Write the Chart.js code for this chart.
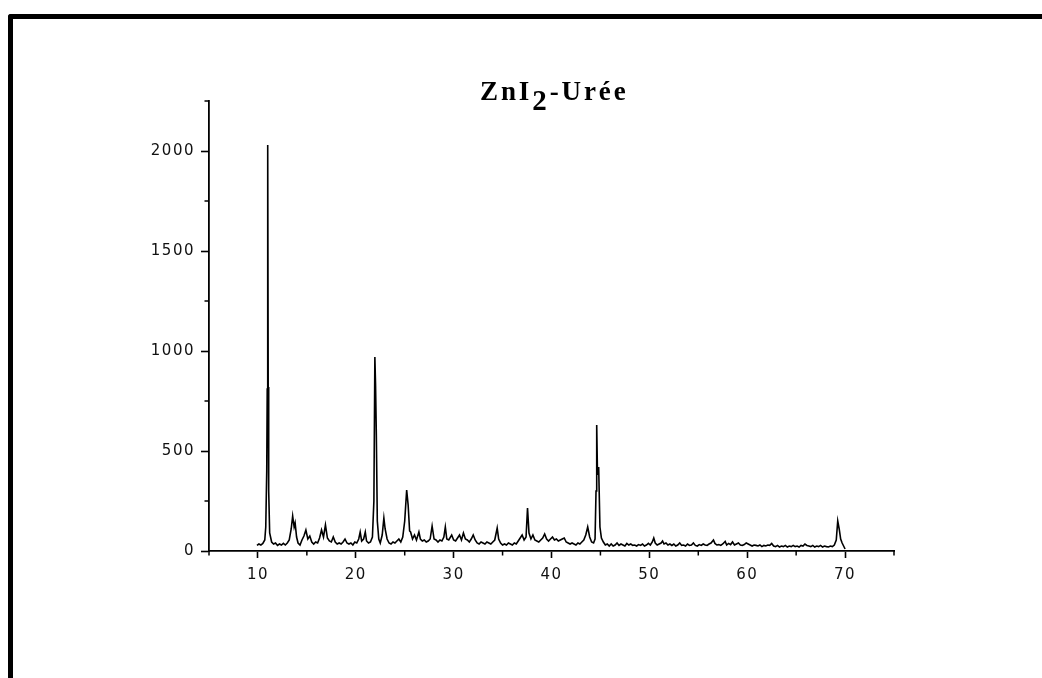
<!DOCTYPE html>
<html>
<head>
<meta charset="utf-8">
<script src="https://cdn.jsdelivr.net/npm/chart.js@4/dist/chart.umd.min.js"></script>
<style>
  html, body { margin: 0; padding: 0; background: #fff; }
  #wrap { position: relative; width: 1042px; height: 678px; overflow: hidden; background: #fff; }
  #frame { position: absolute; left: 8px; top: 14px; width: 1200px; height: 800px;
           border-left: 5px solid #000; border-top: 5px solid #000; border-top-left-radius: 3px; }
  #title { position: absolute; left: 480px; top: 77px; line-height: 27px; white-space: nowrap;
           font-family: "Liberation Serif", "Times New Roman", serif; font-weight: bold; font-size: 27px;
           letter-spacing: 2.9px; color: #000; }
  #title .sub { position: relative; top: 10px; font-size: 29px; }
  canvas { position: absolute; left: 0; top: 0; }
</style>
</head>
<body>
<div id="wrap">
  <canvas id="c" width="1042" height="678"></canvas>
  <div id="frame"></div>
  <div id="title">ZnI<span class="sub">2</span>-Urée</div>
</div>
<script>
// 2-theta (degrees)
const twoTheta = [
  9.9,10.1,10.3,10.5,10.7,10.8,10.9,10.95,11.0,11.05,11.1,11.2,11.4,11.6,11.8,12.0,12.2,12.4,12.6,12.8,
  13.0,13.2,13.4,13.55,13.7,13.8,13.95,14.1,14.3,14.5,14.7,14.9,15.1,15.3,15.5,15.7,15.9,16.1,16.3,16.5,
  16.7,16.9,17.1,17.3,17.5,17.7,17.9,18.1,18.3,18.5,18.7,18.9,19.1,19.3,19.5,19.7,19.9,20.1,20.3,20.45,
  20.6,20.8,20.97,21.1,21.3,21.5,21.7,21.85,21.95,22.02,22.1,22.2,22.35,22.5,22.7,22.87,23.0,23.2,23.4,23.6,
  23.8,24.0,24.2,24.4,24.6,24.8,25.0,25.2,25.35,25.5,25.6,25.8,26.0,26.2,26.45,26.6,26.8,27.0,27.2,27.4,
  27.6,27.8,28.0,28.2,28.4,28.6,28.8,29.0,29.15,29.3,29.5,29.8,30.0,30.2,30.4,30.6,30.8,31.0,31.2,31.4,
  31.6,31.8,32.0,32.2,32.4,32.6,32.8,33.0,33.2,33.4,33.6,33.8,34.0,34.2,34.45,34.6,34.8,35.0,35.2,35.4,
  35.6,35.8,36.0,36.2,36.4,36.6,36.8,37.0,37.2,37.4,37.55,37.7,37.9,38.1,38.3,38.5,38.7,38.9,39.1,39.3,
  39.5,39.7,39.9,40.1,40.3,40.5,40.7,40.9,41.1,41.3,41.5,41.7,41.9,42.1,42.3,42.5,42.7,42.9,43.1,43.3,
  43.5,43.7,43.9,44.1,44.3,44.45,44.55,44.62,44.7,44.82,44.95,45.1,45.3,45.5,45.7,45.9,46.1,46.3,46.5,46.7,
  46.9,47.1,47.3,47.5,47.7,47.9,48.1,48.3,48.5,48.7,48.9,49.1,49.3,49.5,49.7,49.9,50.1,50.3,50.45,50.6,
  50.8,51.0,51.2,51.35,51.5,51.7,51.9,52.1,52.3,52.5,52.7,52.9,53.1,53.3,53.5,53.7,53.9,54.1,54.3,54.5,
  54.7,54.9,55.1,55.3,55.5,55.7,55.9,56.1,56.3,56.55,56.7,56.9,57.1,57.3,57.5,57.75,57.9,58.1,58.3,58.5,
  58.7,58.9,59.1,59.3,59.5,59.7,59.9,60.1,60.3,60.5,60.7,60.9,61.1,61.3,61.5,61.7,61.9,62.1,62.3,62.5,
  62.7,62.9,63.1,63.3,63.5,63.7,63.9,64.1,64.3,64.5,64.7,64.9,65.1,65.3,65.5,65.7,65.9,66.1,66.3,66.5,
  66.7,66.9,67.1,67.3,67.5,67.7,67.9,68.1,68.3,68.5,68.7,68.9,69.1,69.25,69.4,69.55,69.7,69.85,70.0
];
// intensity (counts)
const intensity = [
  28,35,30,38,55,120,400,810,2030,820,300,90,45,35,40,28,35,30,38,30,
  40,55,110,175,120,140,70,40,30,55,75,105,60,75,45,35,45,40,65,105,
  70,130,65,50,45,70,45,35,40,35,45,60,40,35,40,30,45,40,60,95,
  50,60,95,50,40,45,70,250,970,830,580,150,60,40,80,165,110,60,40,35,
  45,40,50,60,45,70,150,305,230,100,95,60,80,55,95,60,50,55,45,50,
  60,125,60,55,45,55,50,70,120,60,55,80,55,50,65,80,55,90,60,55,
  45,60,80,55,40,35,45,40,35,45,40,35,45,55,115,60,40,30,35,30,
  40,35,30,40,35,50,65,80,55,70,215,90,60,80,55,50,45,55,65,85,
  60,50,60,70,55,60,50,55,60,65,45,40,35,40,35,30,40,35,45,55,
  80,120,70,45,40,60,300,630,380,420,120,65,45,30,35,25,35,25,30,40,
  28,35,30,25,38,30,35,28,30,25,32,28,35,25,30,38,30,45,65,40,
  30,35,40,50,35,40,30,35,28,35,25,30,40,28,30,25,35,28,30,40,
  28,25,32,28,35,30,28,35,40,55,38,30,32,28,35,48,30,38,32,45,
  30,35,40,30,28,32,40,35,30,25,30,28,25,30,22,28,25,30,28,38,
  25,22,28,20,25,22,28,20,25,22,28,22,25,20,28,25,35,28,25,22,
  28,20,25,22,28,20,25,22,20,25,22,30,55,150,110,60,40,25,10
];
// axis ticks
const xMajorTicks = [10, 20, 30, 40, 50, 60, 70];
const yMajorTicks = [0, 500, 1000, 1500, 2000];

const points = twoTheta.map((x, i) => ({ x: x, y: intensity[i] }));

const textPlugin = {
  id: 'textSpacing',
  beforeDraw(chart) { chart.ctx.letterSpacing = '1.5px'; },
  afterDraw(chart) {
    const ctx = chart.ctx;
    ctx.save();
    ctx.strokeStyle = '#000';
    ctx.lineWidth = 1.5;
    const xs = chart.scales.x, ys = chart.scales.y;
    ctx.beginPath();
    xs.ticks.forEach(t => {
      if (!xMajorTicks.includes(t.value)) {
        const px = xs.getPixelForValue(t.value);
        ctx.moveTo(px, ys.bottom); ctx.lineTo(px, ys.bottom + 4.5);
      }
    });
    ys.ticks.forEach(t => {
      if (!yMajorTicks.includes(t.value)) {
        const py = ys.getPixelForValue(t.value);
        ctx.moveTo(xs.left, py); ctx.lineTo(xs.left - 4.5, py);
      }
    });
    ctx.stroke();
    ctx.restore();
  }
};

new Chart(document.getElementById('c'), {
  type: 'line',
  data: {
    datasets: [{
      data: points,
      borderColor: '#000',
      borderWidth: 1.6,
      pointRadius: 0,
      tension: 0,
      fill: false
    }]
  },
  options: {
    responsive: false,
    animation: false,
    events: [],
    layout: { padding: { left: 0, top: 101, right: 148, bottom: 0 } },
    plugins: { legend: { display: false }, title: { display: false }, tooltip: { enabled: false } },
    scales: {
      x: {
        type: 'linear', min: 5, max: 75,
        afterFit(s) { s.height = 127; },
        border: { display: true, color: '#000', width: 1.8 },
        grid: {
          drawOnChartArea: false, drawTicks: true, tickLength: 7, tickWidth: 1.6,
          color: c => xMajorTicks.includes(c.tick.value) ? '#000' : 'rgba(0,0,0,0)'
        },
        ticks: {
          stepSize: 5, autoSkip: false, maxRotation: 0, padding: 8,
          color: '#111', font: { family: '"DejaVu Sans", sans-serif', size: 15 },
          callback: v => xMajorTicks.includes(v) ? String(v) : ''
        }
      },
      y: {
        type: 'linear', min: 0, max: 2250,
        afterFit(s) { s.width = 209; },
        border: { display: true, color: '#000', width: 1.8 },
        grid: {
          drawOnChartArea: false, drawTicks: true, tickLength: 8, tickWidth: 1.6,
          color: c => yMajorTicks.includes(c.tick.value) ? '#000' : 'rgba(0,0,0,0)'
        },
        ticks: {
          stepSize: 250, autoSkip: false, padding: 6,
          color: '#111', font: { family: '"DejaVu Sans", sans-serif', size: 15 },
          callback: v => yMajorTicks.includes(v) ? String(v) : ''
        }
      }
    }
  },
  plugins: [textPlugin]
});
</script>
</body>
</html>
